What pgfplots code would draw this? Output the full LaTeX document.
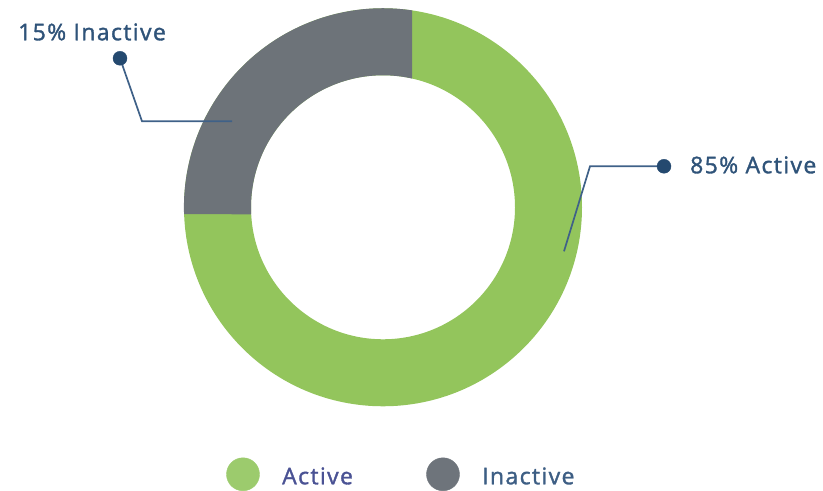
\documentclass[border=0pt]{standalone}
\usepackage{pgfplots}
\pgfplotsset{compat=1.18}
\usepackage{fontspec}
\setmainfont{Open Sans}[LetterSpace=6,FakeBold=1.5]
\definecolor{ringgreen}{HTML}{93C55C}
\definecolor{ringgray}{HTML}{6D7379}
\definecolor{lbl}{HTML}{2F5379}
\definecolor{dotc}{HTML}{24496F}
\definecolor{linec}{HTML}{3F6188}
\definecolor{leggreen}{HTML}{9CCB6D}
\definecolor{leggray}{HTML}{6E747B}
\definecolor{legact}{HTML}{4A5294}
\definecolor{leginact}{HTML}{3D5E84}
\begin{document}
\begin{tikzpicture}
\begin{axis}[width=823pt,height=489pt,scale only axis,
  xmin=0,xmax=823,ymin=0,ymax=489,hide axis,clip=false]
\path (rel axis cs:0,0) rectangle (rel axis cs:1,1);
% donut: Active 85%, Inactive 15% (drawn as in the reference)
\fill[ringgreen,even odd rule] (axis cs:383,283) circle[radius=199pt]
  (axis cs:383,283) circle[radius=132pt];
\fill[ringgray] (axis cs:412,479.9) arc[start angle=81.6,end angle=182.0,radius=199pt]
  -- (axis cs:251.2,276) arc[start angle=183.04,end angle=77.3,radius=132pt] -- cycle;
% leader lines
\addplot[linec,line width=1.7pt,mark=none] coordinates {(120,432) (142,369) (232,369)};
\addplot[linec,line width=1.7pt,mark=none] coordinates {(664,324) (590,324) (564,239)};
\addplot[only marks,mark=*,mark size=7pt,dotc,mark options={draw=dotc,fill=dotc}] coordinates {(120,432) (664,324)};
% legend markers
\addplot[only marks,mark=*,mark size=16.5pt,mark options={draw=leggreen,fill=leggreen}] coordinates {(243,16)};
\addplot[only marks,mark=*,mark size=16.5pt,mark options={draw=leggray,fill=leggray}] coordinates {(443,16)};
% texts
\node[anchor=base west,inner sep=0pt,text=lbl,font=\fontsize{23}{27}\selectfont] at (axis cs:18,450) {15\% Inactive};
\node[anchor=base west,inner sep=0pt,text=lbl,font=\fontsize{23}{27}\selectfont] at (axis cs:690,317) {85\% Active};
\node[anchor=base west,inner sep=0pt,text=legact,font=\fontsize{23}{27}\selectfont] at (axis cs:282,6) {Active};
\node[anchor=base west,inner sep=0pt,text=leginact,font=\fontsize{23}{27}\selectfont] at (axis cs:482,6) {Inactive};
\end{axis}
\end{tikzpicture}
\end{document}
